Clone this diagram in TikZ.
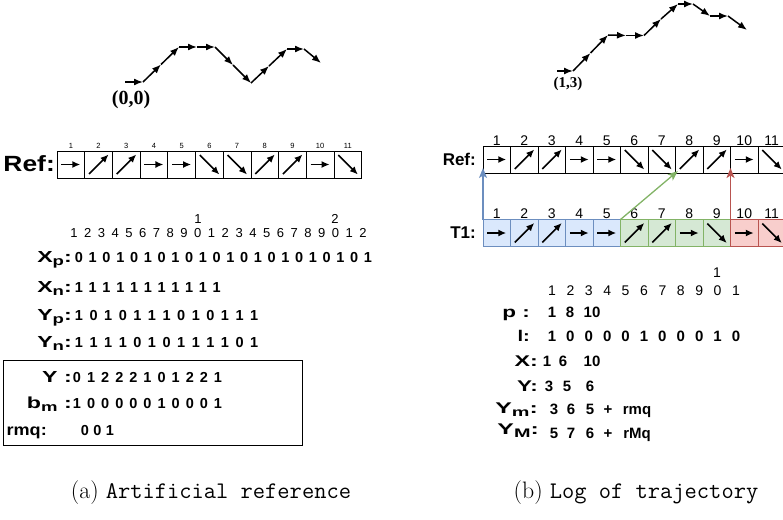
\documentclass[tikz,border=0pt]{standalone}
\usepackage{fontspec}
\usepackage{graphicx}
\newfontfamily\hv{Liberation Sans}
\newfontfamily\tms{Liberation Serif}
\usetikzlibrary{arrows.meta,calc}
\definecolor{bstroke}{HTML}{6C8EBF}
\definecolor{bfill}{HTML}{DAE8FC}
\definecolor{gstroke}{HTML}{82B366}
\definecolor{gfill}{HTML}{D5E8D4}
\definecolor{rstroke}{HTML}{B85450}
\definecolor{rfill}{HTML}{F8CECC}
\newcommand\fsz[1]{\fontsize{#1}{#1}\selectfont}
\newcommand\lsub[1]{\raisebox{-0.4ex}{\scalebox{0.8}{#1}}}
\newcommand\lb[2]{\scalebox{#1}[1]{#2}}
\newcommand\digitrow[6]{% name, style, x0, dx, baseline y, list
  \foreach \dgt [count=\idx from 0] in {#6}
    \node[#2] (#1\idx) at ({#3+#4*\idx},#5) {\dgt};}
\begin{document}
\begin{tikzpicture}[x=1pt,y=-1pt,
  traj/.style={line width=1.5pt,-{Latex[length=9pt,width=7pt]}},
  carr/.style={line width=1.6pt,-{Latex[length=8pt,width=7pt]}},
  conn/.style={line width=1.3pt,-{Stealth[length=10pt,width=8pt,inset=2.5pt]}},
  cellL/.style={draw,line width=0.7pt,minimum width=27.7pt,minimum height=27pt,inner sep=0pt,outer sep=0pt},
  cellR/.style={draw,line width=0.7pt,minimum width=27.5pt,minimum height=27pt,inner sep=0pt,outer sep=0pt},
  cb/.style={draw=bstroke,fill=bfill},
  cg/.style={draw=gstroke,fill=gfill},
  cr/.style={draw=rstroke,fill=rfill},
  cnumL/.style={font=\hv\fsz{7.5},anchor=base,inner sep=0pt},
  cnumR/.style={font=\hv\fsz{14},anchor=base,inner sep=0pt},
  num/.style={font=\hv\fsz{13},anchor=base,inner sep=0pt},
  val/.style={font=\hv\bfseries\fsz{14.5},anchor=base,inner sep=0pt},
  rnum/.style={font=\hv\fsz{14},anchor=base,inner sep=0pt},
  rval/.style={font=\hv\bfseries\fsz{15},anchor=base,inner sep=0pt},
  lab/.style={font=\hv\bfseries\fsz{16},anchor=base east,inner sep=0pt},
  rlab/.style={font=\hv\bfseries\fsz{15.5},anchor=base east,inner sep=0pt},
  ra/.pic={\draw[carr] (-9.5,0) -- (9.5,0);},
  ne/.pic={\draw[carr] (-9.5,9.5) -- (10,-10);},
  se/.pic={\draw[carr] (-9.5,-9.5) -- (10,10);}
]
\useasboundingbox (0,0) rectangle (783,519);
\clip (0,0) rectangle (783,519);

% ---------- left trajectory
\foreach \n/\x/\y in {0/125/82,1/143/82,2/161/64.5,3/179/47,4/197/47,5/215/47,6/233/65,7/251/83,8/269/66,9/287/49,10/304/49,11/321/63}
  \coordinate (a\n) at (\x,\y);
\foreach \p in {1,...,11}{\pgfmathtruncatemacro\q{\p-1}\draw[traj] (a\q) -- (a\p);}
\node[font=\tms\bfseries\fsz{20}] (o1) at (131,100) {(0,0)};

% ---------- right trajectory
\foreach \n/\x/\y in {0/557/71,1/573/71,2/590.5/53,3/608/35,4/626/35.5,5/644/35.5,6/661/19,7/678/4,8/693/4,9/710/16,10/728/16,11/747/30}
  \coordinate (b\n) at (\x,\y);
\foreach \p in {1,...,11}{\pgfmathtruncatemacro\q{\p-1}\draw[traj] (b\q) -- (b\p);}
\node[font=\tms\bfseries\fsz{15}] (o2) at (568,84) {(1,3)};

% ---------- left reference row
\node[font=\hv\bfseries\fsz{22},anchor=east,inner sep=0pt] (refL) at (55,164) {\lb{1.2}{Ref:}};
\foreach \i/\t in {1/ra,2/ne,3/ne,4/ra,5/ra,6/se,7/se,8/ne,9/ne,10/ra,11/se}{
  \node[cellL] (l\i) at ({57+27.7*(\i-0.5)},164.5) {};
  \pic at (l\i) {\t};
  \node[cnumL] (ln\i) at ({57+27.7*(\i-0.5)},148) {\i};
}

% ---------- left numbers
\node[num] (tenA) at (198,223) {1};
\node[num] (tenB) at (335,223) {2};
\digitrow{u}{num}{74}{13.76}{237}{1,2,3,4,5,6,7,8,9,0,1,2,3,4,5,6,7,8,9,0,1,2}
\node[lab] (lxp) at (72,262) {\lb{1.45}{X\lsub{p}:}};
\digitrow{xp}{val}{79}{13.76}{262}{0,1,0,1,0,1,0,1,0,1,0,1,0,1,0,1,0,1,0,1,0,1}
\node[lab] (lxn) at (72,292) {\lb{1.45}{X\lsub{n}:}};
\digitrow{xn}{val}{79}{13.76}{292}{1,1,1,1,1,1,1,1,1,1,1}
\node[lab] (lyp) at (72,320) {\lb{1.45}{Y\lsub{p}:}};
\digitrow{yp}{val}{79}{14.6}{320}{1,0,1,0,1,1,1,0,1,0,1,1,1}
\node[lab] (lyn) at (72,347) {\lb{1.45}{Y\lsub{n}:}};
\digitrow{yn}{val}{79}{14.6}{347}{1,1,1,1,0,1,0,1,1,1,1,0,1}

% ---------- box
\node[draw,line width=0.8pt,minimum width=299pt,minimum height=85pt,inner sep=0pt] (box) at (152.5,402.5) {};
\node[lab] (ly) at (72,382) {\lb{1.45}{Y :}};
\digitrow{yy}{val}{77}{14.1}{382}{0,1,2,2,2,1,0,1,2,2,1}
\node[lab] (lbm) at (72,408) {\lb{1.45}{b\lsub{m} :}};
\digitrow{bm}{val}{77}{14.1}{408}{1,0,0,0,0,0,1,0,0,0,1}
\node[lab] (lrmq) at (47,435) {\lb{1.13}{rmq:}};
\digitrow{rq}{val}{85}{12.5}{435}{0,0,1}

% ---------- right reference row and T1
\node[font=\hv\bfseries\fsz{17},anchor=east,inner sep=0pt] (refR) at (476,159.5) {Ref:};
\node[font=\hv\bfseries\fsz{17},anchor=east,inner sep=0pt] (tone) at (476,233) {T1:};
\foreach \i/\t in {1/ra,2/ne,3/ne,4/ra,5/ra,6/se,7/se,8/ne,9/ne,10/ra,11/se}{
  \node[cellR] (r\i) at ({483+27.5*(\i-0.5)},159.5) {};
  \pic at (r\i) {\t};
  \node[cnumR] (rn\i) at ({483+27.5*(\i-0.5)},145) {\i};
}
\foreach \i/\t/\c in {1/ra/b,2/ne/b,3/ne/b,4/ra/b,5/ra/b,6/ne/g,7/ne/g,8/ra/g,9/se/g,10/ra/r,11/se/r}{
  \node[cellR,c\c] (t\i) at ({483+27.5*(\i-0.5)},233) {};
  \pic at (t\i) {\t};
  \node[cnumR] (tn\i) at ({483+27.5*(\i-0.5)},218) {\i};
}
\draw[conn,bstroke,shorten >=-5pt] (t1.north west) -- (r1.south west);
\draw[conn,gstroke,shorten >=-3pt] (t6.north west) -- (r7.south east);
\draw[conn,rstroke,shorten >=-5pt] (t10.north west) -- (r9.south east);

% ---------- right numbers
\node[rnum] (rten) at (717,277) {1};
\digitrow{ru}{rnum}{552}{18.4}{295}{1,2,3,4,5,6,7,8,9,0,1}
\node[rlab] (lp) at (530,317) {\lb{1.45}{p :}};
\node[rval] (p1) at (552,317) {1};
\node[rval] (p2) at (570,317) {8};
\node[rval] (p3) at (592,317) {10};
\node[rlab] (ll) at (530,341) {\lb{1.3}{l:}};
\digitrow{li}{rval}{552}{18.4}{341}{1,0,0,0,0,1,0,0,0,1,0}
\node[rlab] (lx) at (538,366) {\lb{1.5}{X:}};
\node[rval] (x1) at (547,366) {1};
\node[rval] (x2) at (563,366) {6};
\node[rval] (x3) at (592,366) {10};
\node[rlab] (lY) at (538,391) {\lb{1.45}{Y:}};
\node[rval] (y1) at (549,391) {3};
\node[rval] (y2) at (567,391) {5};
\node[rval] (y3) at (590,391) {6};
\node[rlab] (lym) at (538,413) {\lb{1.6}{Y\lsub{m}:}};
\node[rval] (ym1) at (554,414) {3};
\node[rval] (ym2) at (571,414) {6};
\node[rval] (ym3) at (590,414) {5};
\node[rval] (ym4) at (608,414) {+};
\node[rval] (ym5) at (637,414) {rmq};
\node[rlab] (lyM) at (539,434) {\lb{1.6}{Y\lsub{M}:}};
\node[rval] (yM1) at (554,438) {5};
\node[rval] (yM2) at (571,438) {7};
\node[rval] (yM3) at (590,438) {6};
\node[rval] (yM4) at (608,438) {+};
\node[rval] (yM5) at (637,438) {rMq};

% ---------- captions
\node[font=\fsz{23.8}] (capa) at (211,493) {(a) \texttt{Artificial reference}};
\node[font=\fsz{23.8}] (capb) at (636,493) {(b) \texttt{Log of trajectory}};
\end{tikzpicture}
\end{document}
